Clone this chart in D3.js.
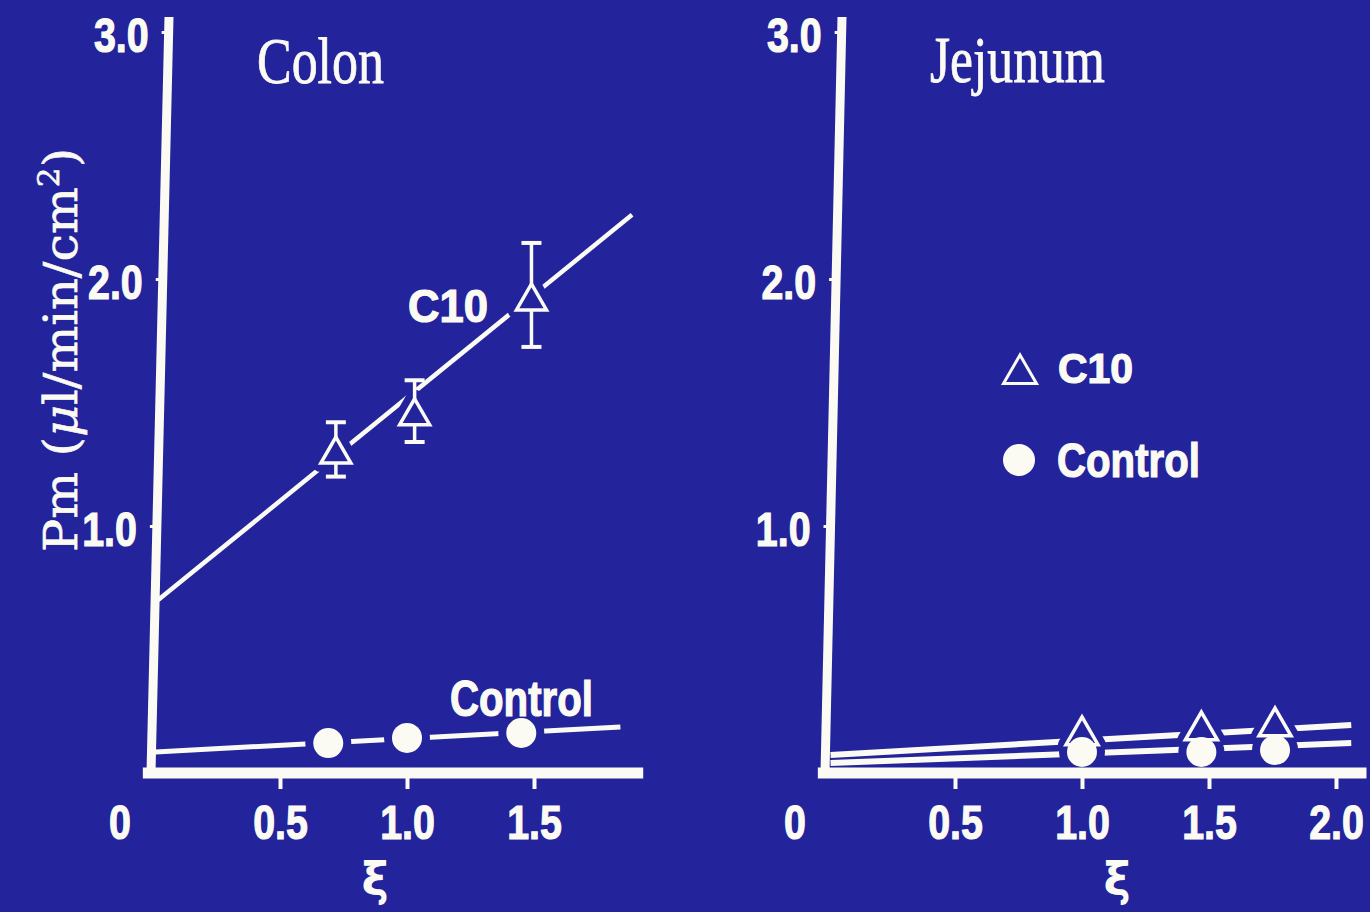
<!DOCTYPE html>
<html><head><meta charset="utf-8">
<script src="https://cdn.jsdelivr.net/npm/d3@7"></script>
<style>
html,body{margin:0;padding:0;background:#23239b;}
svg{display:block;}
</style></head><body>
<svg id="chart" width="1370" height="912"></svg>
<script>
// ---------------- data ----------------
const yTicks = [1.0, 2.0, 3.0];
const yTickLabels = ["1.0", "2.0", "3.0"];
const colonXTicks = [0.5, 1.0, 1.5];
const colonXTickLabels = ["0.5", "1.0", "1.5"];
const jejXTicks = [0.5, 1.0, 1.5, 2.0];
const jejXTickLabels = ["0.5", "1.0", "1.5", "2.0"];

// Colon, C10
const colonC10Xi = [0.72, 1.03, 1.49];
const colonC10Pm = [1.29, 1.445, 1.91];
const colonC10Hi = [1.42, 1.59, 2.146];
const colonC10Lo = [1.20, 1.34, 1.725];
const colonC10FitXi = [0.02, 1.886];
const colonC10FitPm = [0.70, 2.26];
// Colon, Control
const colonCtrlXi = [0.69, 1.0, 1.45];
const colonCtrlPm = [0.121, 0.142, 0.162];
const colonCtrlFitXi = [0.01, 1.84];
const colonCtrlFitPm = [0.085, 0.186];
// Jejunum, C10
const jejC10Xi = [1.0, 1.47, 1.76];
const jejC10Pm = [0.152, 0.172, 0.188];
const jejC10FitXi = [0.01, 2.06];
const jejC10FitPm = [0.073, 0.194];
// Jejunum, Control
const jejCtrlXi = [1.0, 1.47, 1.76];
const jejCtrlPm = [0.085, 0.085, 0.093];
const jejCtrlFitXi = [0.01, 2.06];
const jejCtrlFitPm = [0.040, 0.121];

// ---------------- style ----------------
const BG = "#23239b";
const FG = "#fbfbf4";
const SANS = "'Liberation Sans', Arial, sans-serif";
const SERIF = "'Liberation Serif', 'Times New Roman', serif";

const svg = d3.select("#chart");
svg.append("rect").attr("width", 1370).attr("height", 912).attr("fill", BG);

const y = d3.scaleLinear().domain([0, 3]).range([773, 32]);

function fit(sel, target) {
  const w = sel.node().getComputedTextLength();
  sel.attr("transform", `scale(${target / w},1)`);
  return sel;
}
function label(x, yy, str, opts) {
  const g = svg.append("g").attr("transform", `translate(${x},${yy})`);
  const t = g.append("text")
    .attr("fill", FG)
    .attr("stroke", FG).attr("stroke-width", opts.stroke || 0)
    .attr("text-anchor", opts.anchor || "start")
    .style("font-family", opts.family)
    .style("font-size", opts.size + "px")
    .style("font-weight", opts.weight || "normal")
    .text(str);
  if (opts.width) fit(t, opts.width);
  return t;
}

const triSym = s => d3.symbol(d3.symbolTriangle, s * s * Math.sqrt(3) / 4)();
const line = (xs) => d3.line().x(d => xs(d[0])).y(d => y(d[1]));

function panel(cfg) {
  const x = d3.scaleLinear().domain([0, 1]).range([cfg.x0, cfg.x0 + 254]);
  const g = svg.append("g");
  const marks = g.append("g");
  const axes = g.append("g");

  // fit lines
  cfg.lines.forEach(L => {
    marks.append("path").datum(d3.zip(L.xs, L.ys)).attr("d", line(x))
      .attr("fill", "none").attr("stroke", FG).attr("stroke-width", L.w).attr("stroke-linecap", "butt");
  });
  // halos to break the lines around symbols
  cfg.tris.forEach(T => {
    marks.selectAll(null).data(d3.zip(T.xs, T.ys)).join("path")
      .attr("d", triSym(T.side)).attr("transform", d => `translate(${x(d[0])},${y(d[1])})`)
      .attr("fill", BG).attr("stroke", BG).attr("stroke-width", T.halo).attr("stroke-linejoin", "round");
  });
  cfg.circles.forEach(C => {
    marks.selectAll(null).data(d3.zip(C.xs, C.ys)).join("circle")
      .attr("cx", d => x(d[0])).attr("cy", d => y(d[1])).attr("r", C.r + C.halo / 2)
      .attr("fill", BG);
  });
  // error bars
  cfg.errs.forEach(E => {
    const data = d3.zip(E.xs, E.lo, E.hi);
    marks.selectAll(null).data(data).join("line")
      .attr("x1", d => x(d[0])).attr("x2", d => x(d[0]))
      .attr("y1", d => y(d[1])).attr("y2", d => y(d[2]))
      .attr("stroke", FG).attr("stroke-width", 3.5);
    [1, 2].forEach(j => {
      marks.selectAll(null).data(data).join("line")
        .attr("x1", d => x(d[0]) - 10).attr("x2", d => x(d[0]) + 10)
        .attr("y1", d => y(d[j])).attr("y2", d => y(d[j]))
        .attr("stroke", FG).attr("stroke-width", 4);
    });
  });
  // triangles (hollow)
  cfg.tris.forEach(T => {
    marks.selectAll(null).data(d3.zip(T.xs, T.ys)).join("path")
      .attr("d", triSym(T.side)).attr("transform", d => `translate(${x(d[0])},${y(d[1])})`)
      .attr("fill", BG).attr("stroke", FG).attr("stroke-width", 3.5).attr("stroke-linejoin", "miter");
  });
  // filled circles
  cfg.circles.forEach(C => {
    marks.selectAll(null).data(d3.zip(C.xs, C.ys)).join("circle")
      .attr("cx", d => x(d[0])).attr("cy", d => y(d[1])).attr("r", C.r)
      .attr("fill", FG);
  });

  // x axis
  const xa = axes.append("g").attr("transform", `translate(0,${y(0)})`)
    .call(d3.axisBottom(x).tickValues(cfg.xTicks)
      .tickFormat((d, i) => cfg.xTickLabels[i]).tickSize(16).tickPadding(16));
  xa.select(".domain").remove();
  xa.selectAll(".tick line").attr("stroke", FG).attr("stroke-width", 4);
  xa.selectAll(".tick text").attr("fill", FG).attr("stroke", FG).attr("stroke-width", 1.2)
    .style("font-family", SANS).style("font-size", "48px").style("font-weight", "bold")
    .attr("transform", "scale(0.82,1)");
  axes.append("line").attr("x1", x(cfg.xMin)).attr("x2", x(cfg.xMax))
    .attr("y1", y(0)).attr("y2", y(0)).attr("stroke", FG).attr("stroke-width", 11);

  // origin label
  const o = axes.append("g").attr("transform", `translate(${x(0) - 33},${y(0) + 32})`);
  o.append("text").attr("fill", FG).attr("stroke", FG).attr("stroke-width", 1.2)
    .attr("text-anchor", "middle").attr("dy", "0.71em")
    .style("font-family", SANS).style("font-size", "48px").style("font-weight", "bold")
    .attr("transform", "scale(0.82,1)").text("0");

  // y axis (slightly tilted as on the slide)
  const k = (cfg.yTopX - cfg.yBotX) / (y(0) - 17);
  const deg = -Math.atan(k) * 180 / Math.PI;
  const ya = axes.append("g").attr("transform", `translate(${cfg.yBotX + k * y(0)},0) skewX(${deg})`);
  ya.call(d3.axisLeft(y).tickValues(yTicks).tickFormat((d, i) => yTickLabels[i])
    .tickSize(7).tickPadding(0));
  ya.select(".domain").remove();
  ya.selectAll(".tick line").attr("stroke", FG).attr("stroke-width", 3);
  ya.selectAll(".tick text").attr("fill", FG).attr("stroke", FG).attr("stroke-width", 1.2)
    .attr("x", -20 / 0.82).attr("dy", "0.4em")
    .style("font-family", SANS).style("font-size", "48px").style("font-weight", "bold")
    .attr("transform", `skewX(${-deg}) scale(0.82,1)`);
  ya.append("line").attr("x1", 0).attr("x2", 0).attr("y1", y(0) + 5).attr("y2", 17)
    .attr("stroke", FG).attr("stroke-width", 9);

  // xi label
  label(cfg.xiX, 895, "ξ", { family: "'DejaVu Sans', sans-serif", size: 46, anchor: "middle", weight: "bold" });
  return x;
}

// ---------- Colon panel ----------
panel({
  x0: 153, xMin: -0.04, xMax: 1.93, yBotX: 151, yTopX: 169,
  xTicks: colonXTicks, xTickLabels: colonXTickLabels, xiX: 375,
  lines: [
    { xs: colonC10FitXi, ys: colonC10FitPm, w: 4.5 },
    { xs: colonCtrlFitXi, ys: colonCtrlFitPm, w: 5 }
  ],
  tris: [{ xs: colonC10Xi, ys: colonC10Pm, side: 30, halo: 18 }],
  circles: [{ xs: colonCtrlXi, ys: colonCtrlPm, r: 15, halo: 16 }],
  errs: [{ xs: colonC10Xi, lo: colonC10Lo, hi: colonC10Hi }]
});

// ---------- Jejunum panel ----------
panel({
  x0: 828, xMin: -0.04, xMax: 2.12, yBotX: 825, yTopX: 842,
  xTicks: jejXTicks, xTickLabels: jejXTickLabels, xiX: 1117,
  lines: [
    { xs: jejC10FitXi, ys: jejC10FitPm, w: 6 },
    { xs: jejCtrlFitXi, ys: jejCtrlFitPm, w: 6 }
  ],
  tris: [{ xs: jejC10Xi, ys: jejC10Pm, side: 32, halo: 16 }],
  circles: [{ xs: jejCtrlXi, ys: jejCtrlPm, r: 15, halo: 16 }],
  errs: []
});

// ---------- text ----------
label(257, 83, "Colon", { family: SERIF, size: 66, width: 127, stroke: 0.8 });
label(930, 82, "Jejunum", { family: SERIF, size: 66, width: 175, stroke: 0.8 });
label(408, 322, "C10", { family: SANS, size: 47, weight: "bold", width: 80, stroke: 1.2 });
label(450, 716, "Control", { family: SANS, size: 50, weight: "bold", width: 143, stroke: 1.2 });

// legend
svg.append("path").attr("d", triSym(33)).attr("transform", "translate(1020,374)")
  .attr("fill", BG).attr("stroke", FG).attr("stroke-width", 3);
label(1058, 383, "C10", { family: SANS, size: 42, weight: "bold", width: 75, stroke: 1.2 });
svg.append("circle").attr("cx", 1019).attr("cy", 460).attr("r", 16).attr("fill", FG);
label(1057, 477, "Control", { family: SANS, size: 48, weight: "bold", width: 143, stroke: 1.2 });

// y axis title
const yt = svg.append("g").attr("transform", "translate(77,350) rotate(-90)")
  .append("text").attr("fill", FG).attr("stroke", FG).attr("stroke-width", 0.6)
  .attr("text-anchor", "middle")
  .style("font-family", "'DejaVu Serif', serif").style("font-size", "46px");
yt.append("tspan").text("Pm (");
yt.append("tspan").style("font-style", "italic").text("μ");
yt.append("tspan").text("l/min/cm");
yt.append("tspan").attr("dy", -18).style("font-size", "29px").text("2");
yt.append("tspan").attr("dy", 18).text(")");
fit(yt, 404);
</script>
</body></html>
